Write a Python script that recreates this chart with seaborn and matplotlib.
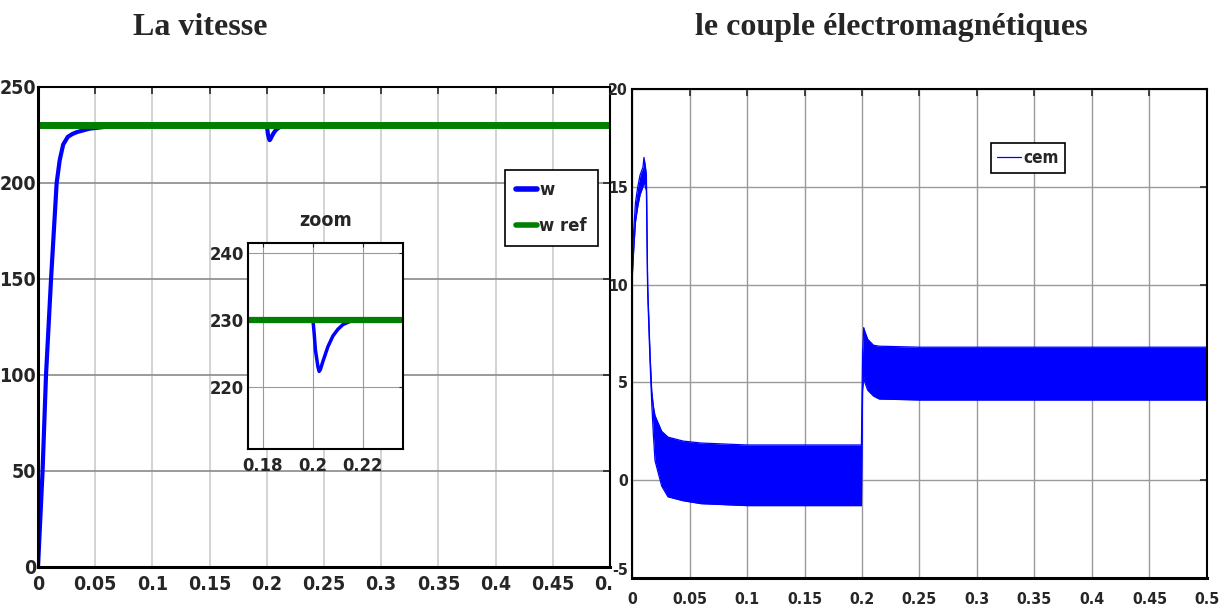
import seaborn as sns
import matplotlib
matplotlib.use("Agg")
from matplotlib import pyplot as plt
from matplotlib import font_manager
from matplotlib.patches import Rectangle

# vitesse (rad/s) read from the scope
t_w = [0, 0.002, 0.004, 0.007, 0.0114, 0.0163, 0.019, 0.022, 0.026, 0.03, 0.034,
       0.045, 0.06, 0.08, 0.1, 0.15, 0.2, 0.2005, 0.201, 0.202, 0.2025, 0.203,
       0.204, 0.206, 0.208, 0.21, 0.212, 0.215, 0.22, 0.3, 0.4, 0.5]
w = [0, 25, 50, 100, 150, 200, 212, 220, 224, 225.5, 226.5,
     228.3, 229.3, 229.8, 230, 230, 230, 228, 225.5, 223, 222.3, 222.6,
     223.8, 226, 227.6, 228.6, 229.3, 229.8, 230, 230, 230, 230]
t_ref = [0, 0.5]
w_ref = [230, 230]

# couple electromagnetique: enveloppe haute / basse des oscillations
t_cem = [0, 0.0003, 0.0015, 0.003, 0.005, 0.007, 0.0095, 0.0104, 0.0115, 0.0125, 0.0136,
         0.0157, 0.0171, 0.0185, 0.02, 0.0258, 0.0313, 0.0444, 0.06, 0.1, 0.15, 0.1995,
         0.2005, 0.2015, 0.2025, 0.205, 0.21, 0.215, 0.25, 0.3, 0.4, 0.5]
cem_hi = [0, 11.6, 12.8, 14.2, 15.0, 15.6, 16.0, 16.5, 16.1, 15.6, 10.0,
          6.4, 4.6, 3.8, 3.3, 2.5, 2.2, 2.0, 1.9, 1.8, 1.8, 1.8,
          6.5, 7.8, 7.6, 7.2, 6.9, 6.85, 6.8, 6.8, 6.8, 6.8]
cem_lo = [0, 10.5, 11.8, 13.2, 14.0, 14.6, 15.0, 15.3, 15.0, 14.8, 9.6,
          6.0, 4.0, 2.4, 1.0, -0.3, -0.85, -1.05, -1.2, -1.3, -1.3, -1.3,
          4.6, 5.3, 5.0, 4.6, 4.3, 4.15, 4.1, 4.1, 4.1, 4.1]

x_ticks = [0, 0.05, 0.1, 0.15, 0.2, 0.25, 0.3, 0.35, 0.4, 0.45, 0.5]
x_labels = ["0", "0.05", "0.1", "0.15", "0.2", "0.25", "0.3", "0.35", "0.4", "0.45", "0.5"]
w_ticks = [0, 50, 100, 150, 200, 250]
cem_ticks = [-5, 0, 5, 10, 15, 20]
zoom_xticks = [0.18, 0.2, 0.22]
zoom_yticks = [220, 230, 240]

sns.set_style("white")

# narrow bold font like the matlab scope, if one is there
fonts = font_manager.fontManager.ttflist
names = {f.name for f in fonts}
stretch = "normal"
scale = 0.78
if "Liberation Sans Narrow" in names:
    family = "Liberation Sans Narrow"
    scale = 1.0
elif any(f.name == "DejaVu Sans" and f.stretch == "condensed" for f in fonts):
    family = "DejaVu Sans"
    stretch = "condensed"
    scale = 0.88
else:
    family = "DejaVu Sans"
plt.rcParams["font.family"] = [family, "DejaVu Sans"]
plt.rcParams["font.weight"] = "bold"
plt.rcParams["font.stretch"] = stretch
plt.rcParams["axes.unicode_minus"] = False

BLUE = "#0000ff"
GREEN = "#007f00"

fig = plt.figure(figsize=(12.22, 6.07), dpi=100)

ax1 = fig.add_axes([0.0311, 0.0659, 0.468, 0.7908])
ax2 = fig.add_axes([0.5172, 0.0478, 0.4705, 0.8056])
ax2.set_zorder(3)
ax_in = fig.add_axes([0.2029, 0.2603, 0.1268, 0.3394])
ax_in.set_zorder(2)

# --- vitesse ---
sns.lineplot(x=t_w, y=w, ax=ax1, color=BLUE, lw=3, label="w", sort=False, estimator=None)
sns.lineplot(x=t_ref, y=w_ref, ax=ax1, color=GREEN, lw=5, label="w ref", estimator=None)
ax1.set_xlim(0, 0.5)
ax1.set_ylim(0, 250)
ax1.set_xticks(x_ticks)
ax1.set_xticklabels(x_labels)
ax1.set_yticks(w_ticks)
for x in x_ticks[1:-1]:
    ax1.axvline(x, color="#cccccc", lw=1.2, zorder=0)
for y in w_ticks[1:-1]:
    ax1.axhline(y, color="#8a8a8a", lw=1.2, zorder=0)
ax1.tick_params(direction="in", top=True, right=True, length=5, width=1.2,
                labelsize=16 * scale, pad=1.5)
ax1.tick_params(axis="x", pad=6)
for s in ax1.spines.values():
    s.set_color("black")
    s.set_linewidth(1.5)
ax1.spines["bottom"].set_linewidth(2.2)
ax1.spines["left"].set_linewidth(2.2)
leg = ax1.legend(loc="upper right", bbox_to_anchor=(0.979, 0.827), fancybox=False,
                 edgecolor="black", framealpha=1, fontsize=15 * scale, handlelength=1.15,
                 handletextpad=0.1, labelspacing=1.0, borderpad=0.6, borderaxespad=0)
leg.get_frame().set_linewidth(1.2)
for line in leg.get_lines():
    line.set_linewidth(4)

# --- zoom ---
sns.lineplot(x=t_w, y=w, ax=ax_in, color=BLUE, lw=2.5, sort=False, estimator=None)
sns.lineplot(x=t_ref, y=w_ref, ax=ax_in, color=GREEN, lw=4.5, estimator=None)
ax_in.set_facecolor("white")
ax_in.set_xlim(0.174, 0.236)
ax_in.set_ylim(210.7, 241.5)
ax_in.set_xticks(zoom_xticks)
ax_in.set_xticklabels(["0.18", "0.2", "0.22"])
ax_in.set_yticks(zoom_yticks)
ax_in.grid(True, color="#999999", lw=0.8)
ax_in.tick_params(direction="in", top=True, right=True, length=3,
                  labelsize=15 * scale, pad=3)
ax_in.tick_params(axis="x", pad=6)
for s in ax_in.spines.values():
    s.set_color("black")
    s.set_linewidth(1.5)
ax_in.set_title("zoom", fontsize=16 * scale, fontweight="bold", pad=12)

# --- couple ---
ax2.fill_between(t_cem, cem_lo, cem_hi, color=BLUE, lw=0)
sns.lineplot(x=t_cem, y=cem_hi, ax=ax2, color=BLUE, lw=0.9, sort=False, estimator=None, label="cem")
sns.lineplot(x=t_cem, y=cem_lo, ax=ax2, color=BLUE, lw=0.9, sort=False, estimator=None)
ax2.set_xlim(0, 0.5)
ax2.set_ylim(-5, 20)
ax2.set_xticks(x_ticks)
ax2.set_xticklabels(x_labels)
ax2.set_yticks(cem_ticks)
ax2.grid(True, color="#9a9a9a", lw=1.0)
ax2.set_axisbelow(True)
ax2.tick_params(direction="in", top=True, right=True, length=5, width=1.2,
                labelsize=13 * scale, pad=3)
ax2.tick_params(axis="x", pad=10)
for lab in ax2.get_yticklabels():
    if lab.get_text() == "-5":
        lab.set_verticalalignment("bottom")
for s in ax2.spines.values():
    s.set_color("black")
    s.set_linewidth(1.5)
ax2.spines["bottom"].set_linewidth(2.2)
leg2 = ax2.legend(loc="upper right", bbox_to_anchor=(0.753, 0.889), fancybox=False,
                  edgecolor="black", framealpha=1, fontsize=14 * scale, handlelength=1.4,
                  handletextpad=0.15, borderpad=0.35, borderaxespad=0)
leg2.get_frame().set_linewidth(1.2)

# white paper of the second screenshot hiding the end of the first one
fig.add_artist(Rectangle((0.5015, 0.0), 0.5, 0.9, transform=fig.transFigure,
                         facecolor="white", edgecolor="none", zorder=1))

fig.text(0.164, 0.955, "La vitesse", ha="center", va="center", fontsize=23,
         fontweight="bold", family="Liberation Serif")
fig.text(0.729, 0.955, "le couple électromagnétiques", ha="center", va="center",
         fontsize=23, fontweight="bold", family="Liberation Serif")

fig.savefig("out.png", dpi=100)
